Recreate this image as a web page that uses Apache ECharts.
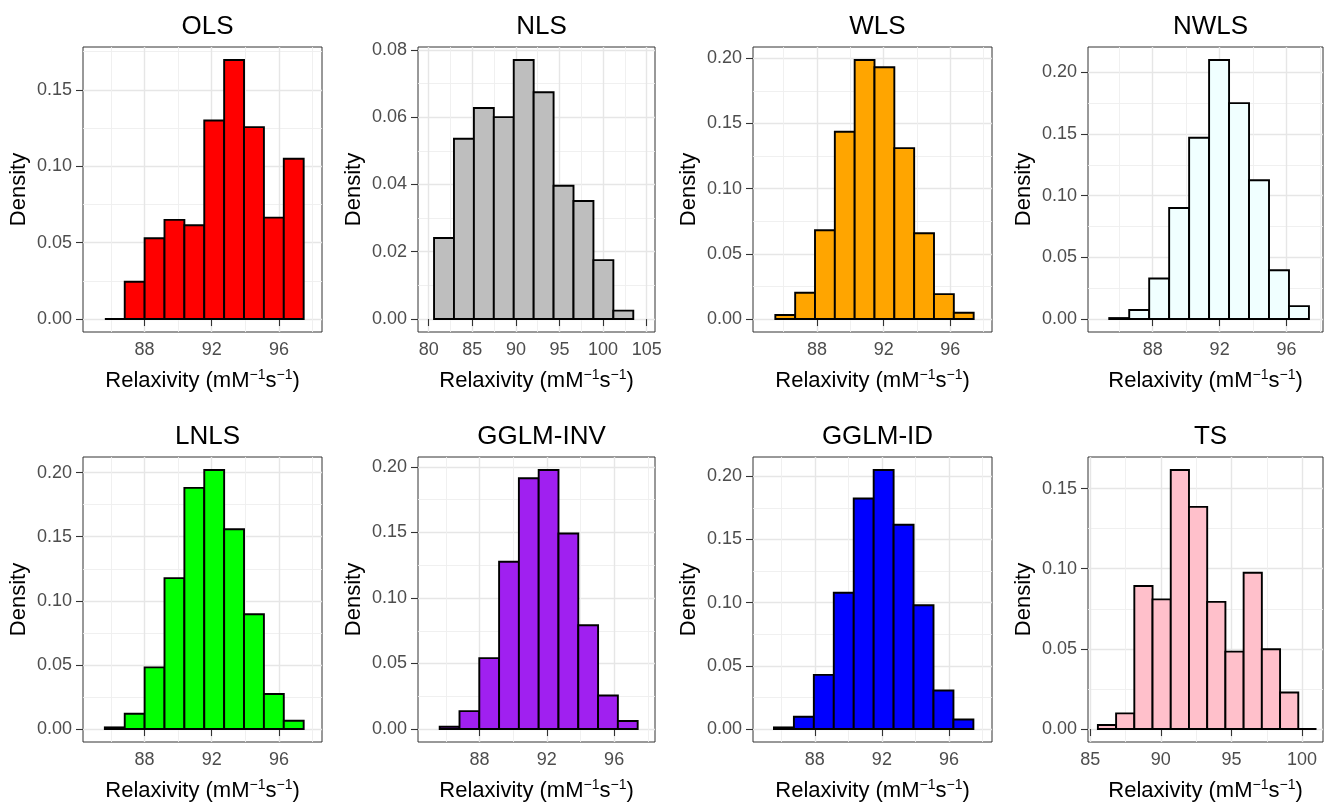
<!DOCTYPE html>
<html>
<head>
<meta charset="utf-8">
<script src="https://cdn.jsdelivr.net/npm/echarts@6/dist/echarts.min.js"></script>
<style>
html, body { margin: 0; padding: 0; background: #fff; }
#main { width: 1328px; height: 805px; }
</style>
</head>
<body>
<div id="main"></div>
<script>
// histogram data, one panel per fitting method
var methods = ['OLS', 'NLS', 'WLS', 'NWLS', 'LNLS', 'GGLM-INV', 'GGLM-ID', 'TS'];
var fills = ['#FF0000', '#BEBEBE', '#FFA500', '#F0FFFF', '#00FF00', '#A020F0', '#0000FF', '#FFC0CB'];

// left edge of the first bin and bin width
var binStart = [85.64, 80.61, 85.50, 85.40, 85.64, 85.63, 85.56, 85.54];
var binWidth = [1.183, 2.285, 1.190, 1.194, 1.183, 1.177, 1.190, 1.290];

var densOLS  = [0, 0.0244, 0.0529, 0.0649, 0.0614, 0.1300, 0.1696, 0.1256, 0.0664, 0.1049];
var densNLS  = [0.0241, 0.0536, 0.0627, 0.0600, 0.0770, 0.0674, 0.0396, 0.0351, 0.0175, 0.0025];
var densWLS  = [0.0031, 0.0202, 0.0681, 0.1436, 0.1987, 0.1931, 0.1311, 0.0658, 0.0191, 0.0048];
var densNWLS = [0.0008, 0.0073, 0.0329, 0.0900, 0.1469, 0.2100, 0.1750, 0.1125, 0.0396, 0.0105];
var densLNLS = [0.0013, 0.0119, 0.0481, 0.1177, 0.1881, 0.2021, 0.1558, 0.0896, 0.0273, 0.0065];
var densINV  = [0.0018, 0.0137, 0.0541, 0.1277, 0.1914, 0.1977, 0.1492, 0.0792, 0.0256, 0.0061];
var densID   = [0.0013, 0.0097, 0.0429, 0.1079, 0.1824, 0.2050, 0.1616, 0.0979, 0.0305, 0.0076];
var densTS   = [0.0025, 0.0098, 0.0892, 0.0809, 0.1616, 0.1386, 0.0793, 0.0483, 0.0975, 0.0498, 0.0228, 0];
var densities = [densOLS, densNLS, densWLS, densNWLS, densLNLS, densINV, densID, densTS];

// tick labels (major) and minor grid positions
var x88 = [88, 92, 96], x88minor = [86, 90, 94, 98];
var xNLS = [80, 85, 90, 95, 100, 105], xNLSminor = [82.5, 87.5, 92.5, 97.5, 102.5];
var xTS = [85, 90, 95, 100], xTSminor = [87.5, 92.5, 97.5];
var y20 = [0, 0.05, 0.10, 0.15, 0.20], y20minor = [0.025, 0.075, 0.125, 0.175];
var y15 = [0, 0.05, 0.10, 0.15], y15minor = [0.025, 0.075, 0.125, 0.175];
var y08 = [0, 0.02, 0.04, 0.06, 0.08], y08minor = [0.01, 0.03, 0.05, 0.07];

var xMajor = [x88, xNLS, x88, x88, x88, x88, x88, xTS];
var xMinor = [x88minor, xNLSminor, x88minor, x88minor, x88minor, x88minor, x88minor, xTSminor];
var yMajor = [y15, y08, y20, y20, y20, y20, y20, y15];
var yMinor = [y15minor, y08minor, y20minor, y20minor, y20minor, y20minor, y20minor, y15minor];

// layout
var xRange = [[84.34, 98.56], [78.77, 105.95], [84.16, 98.50], [84.13, 98.18],
              [84.34, 98.56], [84.34, 98.43], [84.31, 98.57], [84.84, 101.48]];
var colLeft = [83, 418, 753, 1088];
var colWidth = [239, 237, 239, 235];
var rowTop = [47, 457];
var panelH = 285;
var FONT = "'Liberation Sans', Arial, Helvetica, sans-serif";

var chart = echarts.init(document.getElementById('main'));

var grids = [], xAxes = [], yAxes = [], series = [], titles = [];
methods.forEach(function (m, i) {
    var col = i % 4, row = Math.floor(i / 4);
    var d = densities[i];
    var top = Math.max.apply(null, d);
    var ymin = -0.05 * top, ymax = 1.05 * top;

    grids.push({
        left: colLeft[col], top: rowTop[row], width: colWidth[col], height: panelH,
        show: true, backgroundColor: '#fff', borderColor: '#333333', borderWidth: 1,
        containLabel: false, outerBoundsMode: 'none'
    });

    titles.push({
        text: m,
        left: colLeft[col] + colWidth[col] / 2,
        top: rowTop[row] - 38,
        textAlign: 'center',
        textStyle: { fontSize: 26, fontWeight: 'normal', color: '#000', fontFamily: FONT }
    });

    // main axes: labels, ticks, major grid
    xAxes.push({
        type: 'value', gridIndex: i, min: xRange[i][0], max: xRange[i][1],
        name: '{t|Relaxivity (mM}{s|\u22121}{t|s}{s|\u22121}{t|)}',
        nameLocation: 'middle', nameGap: 36,
        nameTextStyle: {
            color: '#000', fontFamily: FONT,
            rich: {
                t: { fontSize: 22, lineHeight: 26, color: '#000', fontFamily: FONT },
                s: { fontSize: 14, lineHeight: 14, verticalAlign: 'top', color: '#000', fontFamily: FONT }
            }
        },
        axisLine: { show: false },
        axisTick: { show: true, length: 7, customValues: xMajor[i], lineStyle: { color: '#333333', width: 1.1 } },
        axisLabel: { customValues: xMajor[i], margin: 9, fontSize: 18, color: '#4D4D4D', fontFamily: FONT },
        splitLine: { show: true, lineStyle: { color: '#E6E6E6', width: 1.4 } }
    });
    // minor grid only
    xAxes.push({
        type: 'value', gridIndex: i, min: xRange[i][0], max: xRange[i][1],
        axisLine: { show: false },
        axisTick: { show: false, customValues: xMinor[i] },
        axisLabel: { show: false, customValues: xMinor[i] },
        splitLine: { show: true, lineStyle: { color: '#EEEEEE', width: 0.9 } }
    });

    yAxes.push({
        type: 'value', gridIndex: i, min: ymin, max: ymax,
        name: 'Density', nameLocation: 'middle', nameRotate: 90, nameGap: 53,
        nameTextStyle: { fontSize: 22, color: '#000', fontFamily: FONT },
        axisLine: { show: false },
        axisTick: { show: true, length: 7, customValues: yMajor[i], lineStyle: { color: '#333333', width: 1.1 } },
        axisLabel: {
            customValues: yMajor[i], margin: 11, fontSize: 18, color: '#4D4D4D', fontFamily: FONT,
            formatter: function (v) { return v.toFixed(2); }
        },
        splitLine: { show: true, lineStyle: { color: '#E6E6E6', width: 1.4 } }
    });
    yAxes.push({
        type: 'value', gridIndex: i, min: ymin, max: ymax,
        axisLine: { show: false },
        axisTick: { show: false, customValues: yMinor[i] },
        axisLabel: { show: false, customValues: yMinor[i] },
        splitLine: { show: true, lineStyle: { color: '#EEEEEE', width: 0.9 } }
    });

    var bars = d.map(function (v, k) {
        return [binStart[i] + k * binWidth[i], binStart[i] + (k + 1) * binWidth[i], v];
    });
    series.push({
        type: 'custom',
        name: m,
        xAxisIndex: 2 * i, yAxisIndex: 2 * i,
        data: bars,
        renderItem: (function (color) {
            return function (params, api) {
                var p0 = api.coord([api.value(0), 0]);
                var p1 = api.coord([api.value(1), api.value(2)]);
                return {
                    type: 'polygon',
                    shape: { points: [[p0[0], p0[1]], [p0[0], p1[1]], [p1[0], p1[1]], [p1[0], p0[1]]] },
                    style: { fill: color, stroke: '#000', lineWidth: 1.9 }
                };
            };
        })(fills[i])
    });
});

chart.setOption({
    backgroundColor: '#fff',
    animation: false,
    title: titles,
    grid: grids,
    xAxis: xAxes,
    yAxis: yAxes,
    series: series
});
</script>
</body>
</html>
